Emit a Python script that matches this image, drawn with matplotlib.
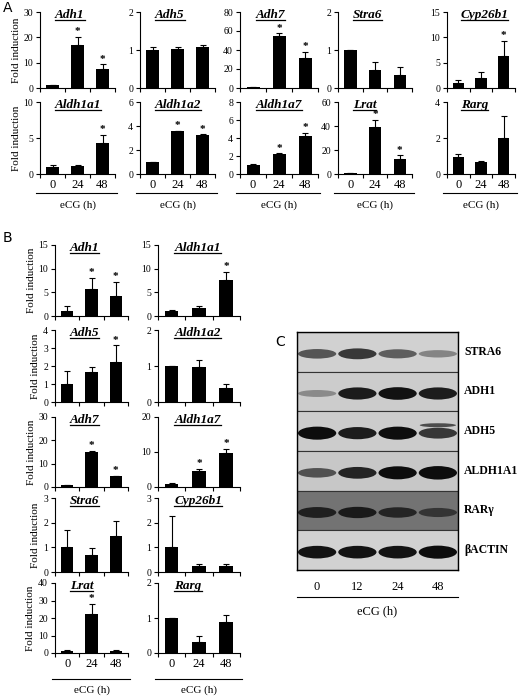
import matplotlib
matplotlib.use("Agg")
import matplotlib.pyplot as plt
from matplotlib.patches import Ellipse, Rectangle
from matplotlib.lines import Line2D

W, H = 520, 696
fig = plt.figure(figsize=(W/100, H/100), dpi=100)
SERIF = "Liberation Serif"
times = ["0", "24", "48"]

# Panel A data
A_genes = ["Adh1", "Adh5", "Adh7", "Stra6", "Cyp26b1",
           "Aldh1a1", "Aldh1a2", "Aldh1a7", "Lrat", "Rarg"]
A_vals = [[1, 17, 7.5], [1, 1.02, 1.08], [1, 55, 32], [1, 0.48, 0.35], [1, 2, 6.3],
          [1, 1.1, 4.3], [1, 3.55, 3.25], [1, 2.2, 4.2], [1, 39.5, 12.5], [0.95, 0.65, 2]]
A_errs = [[0.3, 3.2, 1.8], [0.08, 0.06, 0.04], [0.3, 2.5, 6], [0, 0.2, 0.2], [0.5, 1.1, 3],
          [0.3, 0.2, 1.1], [0.03, 0.05, 0.05], [0.15, 0.08, 0.4], [0.2, 5.5, 3], [0.15, 0.07, 1.2]]
A_ymax = [30, 2, 80, 2, 15, 10, 6, 8, 60, 4]
A_step = [10, 1, 20, 1, 5, 5, 2, 2, 20, 2]
A_star = [[1, 2], [], [1, 2], [], [2], [2], [1, 2], [1, 2], [1, 2], []]

# Panel B data
B_genes = ["Adh1", "Aldh1a1", "Adh5", "Aldh1a2", "Adh7", "Aldh1a7",
           "Stra6", "Cyp26b1", "Lrat", "Rarg"]
B_vals = [[1, 5.8, 4.3], [1, 1.6, 7.6], [1, 1.65, 2.25], [1, 0.97, 0.38], [1, 15, 4.8],
          [1, 4.5, 9.7], [1, 0.67, 1.45], [1, 0.25, 0.25], [1, 22.5, 1], [1, 0.32, 0.9]]
B_errs = [[1.1, 2.3, 2.9], [0.3, 0.5, 1.8], [0.75, 0.3, 0.9], [0, 0.2, 0.12], [0, 0.5, 0],
          [0.2, 0.6, 1.2], [0.72, 0.3, 0.62], [1.28, 0.08, 0.08], [1, 5.5, 1], [0, 0.17, 0.2]]
B_ymax = [15, 15, 4, 2, 30, 20, 3, 3, 40, 2]
B_step = [5, 5, 1, 1, 10, 10, 1, 1, 10, 1]
B_star = [[1, 2], [2], [2], [], [1, 2], [1, 2], [], [], [1], []]

# Panel C data (band intensity 0..1, per lane)
C_proteins = ["STRA6", "ADH1", "ADH5", "ALDH1A1", "RARγ", "βACTIN"]
C_lanes = ["0", "12", "24", "48"]
C_bands = [[0.55, 0.7, 0.5, 0.3], [0.25, 0.85, 0.9, 0.85], [0.95, 0.85, 0.95, 0.7],
           [0.55, 0.8, 0.95, 1.0], [0.7, 0.75, 0.65, 0.5], [0.9, 0.9, 0.9, 0.95]]
C_bg = [0.82, 0.80, 0.80, 0.78, 0.45, 0.82]

underline_items = []


def add_ax(x0, y0, x1, y1):
    return fig.add_axes([x0/W, 1 - y1/H, (x1-x0)/W, (y1-y0)/H])


def bar_panel(ax, gene, vals, errs, ymax, step, stars, xlabels, ylabel):
    x = range(3)
    ax.bar(x, vals, width=0.5, color="black")
    ax.errorbar(x, vals, yerr=[[0]*3, errs], fmt="none", ecolor="black",
                elinewidth=0.8, capsize=2, capthick=0.8)
    for i in stars:
        ax.text(i, vals[i] + errs[i] + ymax*0.01, "*", ha="center", va="bottom",
                fontsize=8, fontweight="bold", family=SERIF)
    ax.set_xlim(-0.5, 2.5)
    ax.set_ylim(0, ymax)
    ticks = [k*step for k in range(int(round(ymax/step)) + 1)]
    ax.set_yticks(ticks)
    ax.set_yticklabels([("%g" % t) for t in ticks], family=SERIF, fontsize=7)
    ax.set_xticks([-0.5, 0.5, 1.5, 2.5])
    ax.set_xticks([0, 1, 2], minor=True)
    ax.tick_params(axis="x", which="minor", length=0)
    ax.set_xticklabels([])
    if xlabels:
        ax.set_xticklabels(times, minor=True, family=SERIF, fontsize=9)
    ax.tick_params(axis="x", which="major", length=3, width=0.8)
    ax.tick_params(axis="y", length=3, width=0.8, pad=2)
    for s in ["top", "right"]:
        ax.spines[s].set_visible(False)
    for s in ["left", "bottom"]:
        ax.spines[s].set_linewidth(0.8)
    t = ax.text(0.2, 1.04, gene, transform=ax.transAxes, ha="left", va="top",
                family=SERIF, fontsize=9.5, fontweight="bold", style="italic")
    underline_items.append(t)
    if ylabel:
        ax.set_ylabel("Fold induction", family=SERIF, fontsize=8, labelpad=2)


# Panel A layout
A_cols = [(40, 115), (140, 215), (240, 318), (338, 412), (447, 515)]
A_rows = [(12, 88), (102, 174)]
for k in range(10):
    r, c = divmod(k, 5)
    ax = add_ax(A_cols[c][0], A_rows[r][0], A_cols[c][1], A_rows[r][1])
    bar_panel(ax, A_genes[k], A_vals[k], A_errs[k], A_ymax[k], A_step[k], A_star[k],
              r == 1, c == 0)
for (x0, x1) in A_cols:
    fig.add_artist(Line2D([(x0-4)/W, (x1+2)/W], [1-193/H]*2, color="black", lw=0.8))
    fig.text((x0+x1)/2/W, 1-205/H, "eCG (h)", ha="center", va="center", family=SERIF, fontsize=8)
fig.text(3/W, 1-8/H, "A", fontsize=10, va="center")

# Panel B layout
B_cols = [(55, 128), (158, 240)]
B_rows = [(245, 316), (330, 402), (417, 487), (498, 572), (583, 653)]
for k in range(10):
    r, c = divmod(k, 2)
    ax = add_ax(B_cols[c][0], B_rows[r][0], B_cols[c][1], B_rows[r][1])
    bar_panel(ax, B_genes[k], B_vals[k], B_errs[k], B_ymax[k], B_step[k], B_star[k],
              r == 4, c == 0)
for (x0, x1) in B_cols:
    fig.add_artist(Line2D([(x0-3)/W, (x1+2)/W], [1-679/H]*2, color="black", lw=0.8))
    fig.text((x0+x1)/2/W, 1-690/H, "eCG (h)", ha="center", va="center", family=SERIF, fontsize=8)
fig.text(3/W, 1-238/H, "B", fontsize=10, va="center")

# Panel C
axc = add_ax(297, 332, 458, 570)
n = len(C_proteins)
axc.set_xlim(0, 4)
axc.set_ylim(n, 0)
for i, (prot, bands, bg) in enumerate(zip(C_proteins, C_bands, C_bg)):
    axc.add_patch(Rectangle((0, i), 4, 1, facecolor=str(bg), edgecolor="#333333", lw=0.8))
    for j, b in enumerate(bands):
        g = bg * (1 - b) * 0.9
        axc.add_patch(Ellipse((j + 0.5, i + 0.55), 0.95, 0.12 + 0.22*b,
                              facecolor=str(max(g, 0.05)), edgecolor="none"))
    if prot == "ADH5":
        axc.add_patch(Ellipse((3.5, i + 0.35), 0.9, 0.1, facecolor="0.3", edgecolor="none"))
    axc.text(4.15, i + 0.5, prot, ha="left", va="center", family=SERIF,
             fontsize=8.5, fontweight="bold", clip_on=False)
axc.set_xticks([0.5, 1.5, 2.5, 3.5])
axc.set_xticklabels(C_lanes, family=SERIF, fontsize=9)
axc.tick_params(axis="x", length=0, pad=8)
axc.set_yticks([])
for s in axc.spines.values():
    s.set_linewidth(1)
fig.add_artist(Line2D([297/W, 458/W], [1-597/H]*2, color="black", lw=0.8))
fig.text(377/W, 1-611/H, "eCG (h)", ha="center", va="center", family=SERIF, fontsize=9)
fig.text(275/W, 1-342/H, "C", fontsize=10, va="center")

# underline gene titles
fig.canvas.draw()
r = fig.canvas.get_renderer()
for t in underline_items:
    bb = t.get_window_extent(r)
    fig.add_artist(Line2D([bb.x0/W, bb.x1/W], [(bb.y0 + 1)/H]*2, color="black", lw=0.9))

fig.savefig("out.png", dpi=100)
